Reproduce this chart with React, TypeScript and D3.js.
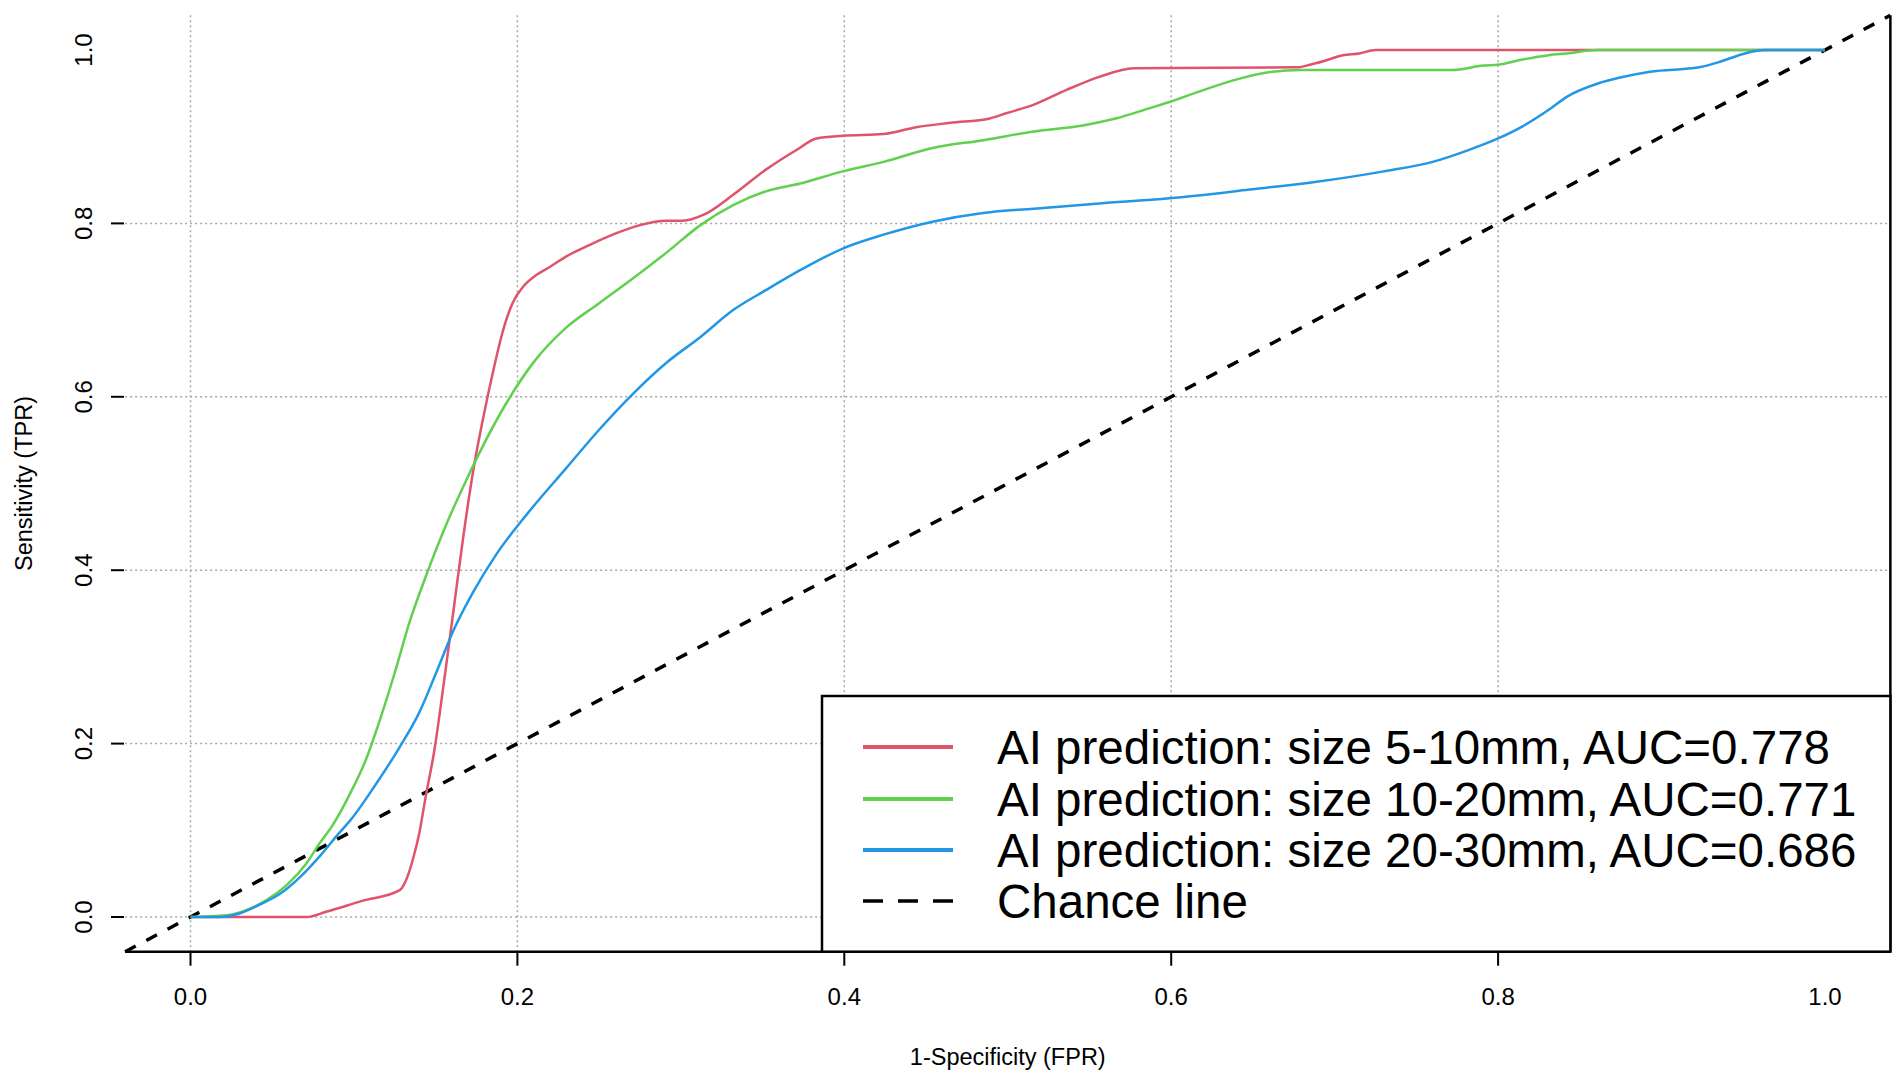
import * as d3 from 'd3'

// ROC curves (1-specificity, sensitivity)
const fpr5to10 = [0, 0.071, 0.083, 0.104, 0.128, 0.132, 0.136, 0.14, 0.144, 0.149, 0.155, 0.161, 0.167, 0.173, 0.179, 0.185, 0.191, 0.197, 0.204, 0.212, 0.22, 0.23, 0.244, 0.261, 0.275, 0.291, 0.301, 0.314, 0.332, 0.352, 0.371, 0.383, 0.399, 0.424, 0.444, 0.465, 0.489, 0.499, 0.516, 0.536, 0.556, 0.577, 0.677, 0.685, 0.693, 0.705, 0.715, 0.725, 1.0]
const tpr5to10 = [0, 0, 0.006, 0.018, 0.031, 0.043, 0.066, 0.097, 0.14, 0.19, 0.27, 0.355, 0.44, 0.515, 0.575, 0.628, 0.675, 0.708, 0.728, 0.741, 0.75, 0.762, 0.775, 0.789, 0.798, 0.803, 0.803, 0.81, 0.833, 0.862, 0.885, 0.898, 0.901, 0.903, 0.911, 0.916, 0.921, 0.927, 0.937, 0.954, 0.969, 0.979, 0.98, 0.983, 0.987, 0.994, 0.996, 1.0, 1.0]

const fpr10to20 = [0, 0.022, 0.034, 0.047, 0.059, 0.071, 0.079, 0.087, 0.097, 0.107, 0.116, 0.125, 0.134, 0.145, 0.157, 0.169, 0.178, 0.193, 0.21, 0.23, 0.25, 0.271, 0.291, 0.312, 0.332, 0.352, 0.373, 0.399, 0.424, 0.454, 0.485, 0.516, 0.546, 0.566, 0.587, 0.599, 0.617, 0.638, 0.662, 0.679, 0.772, 0.791, 0.8, 0.815, 0.831, 0.842, 0.861, 1.0]
const tpr10to20 = [0, 0.002, 0.008, 0.02, 0.037, 0.062, 0.085, 0.106, 0.14, 0.18, 0.228, 0.282, 0.34, 0.398, 0.455, 0.505, 0.54, 0.592, 0.64, 0.68, 0.708, 0.737, 0.766, 0.798, 0.821, 0.837, 0.846, 0.86, 0.871, 0.887, 0.896, 0.906, 0.913, 0.921, 0.933, 0.94, 0.952, 0.965, 0.975, 0.977, 0.977, 0.982, 0.983, 0.989, 0.994, 0.996, 1.0, 1.0]

const fpr20to30 = [0, 0.018, 0.03, 0.042, 0.055, 0.067, 0.079, 0.091, 0.098, 0.113, 0.128, 0.14, 0.151, 0.161, 0.173, 0.187, 0.206, 0.23, 0.25, 0.271, 0.291, 0.312, 0.332, 0.352, 0.373, 0.399, 0.424, 0.454, 0.485, 0.516, 0.556, 0.599, 0.648, 0.689, 0.73, 0.76, 0.781, 0.8, 0.815, 0.831, 0.842, 0.862, 0.874, 0.893, 0.923, 0.935, 0.951, 0.963, 1.0]
const tpr20to30 = [0, 0, 0.004, 0.014, 0.027, 0.046, 0.07, 0.097, 0.112, 0.152, 0.196, 0.236, 0.285, 0.331, 0.375, 0.418, 0.465, 0.518, 0.562, 0.604, 0.639, 0.669, 0.7, 0.723, 0.746, 0.771, 0.787, 0.802, 0.812, 0.817, 0.823, 0.829, 0.839, 0.848, 0.86, 0.871, 0.884, 0.898, 0.912, 0.931, 0.946, 0.962, 0.968, 0.975, 0.98, 0.986, 0.996, 1.0, 1.0]

const seriesLabels = [
  'AI prediction: size 5-10mm, AUC=0.778',
  'AI prediction: size 10-20mm, AUC=0.771',
  'AI prediction: size 20-30mm, AUC=0.686',
]
const seriesColors = ['#DF536B', '#61D04F', '#2297E6']
const chanceLabel = 'Chance line'

const axisTicks = [0, 0.2, 0.4, 0.6, 0.8, 1.0]
const gridTicks = [0, 0.2, 0.4, 0.6, 0.8]

const W = 1902
const H = 1081
const font = '"Liberation Sans", Arial, sans-serif'

export default function App() {
  const x = d3.scaleLinear().domain([0, 1]).range([190.5, 1825])
  const y = d3.scaleLinear().domain([0, 1]).range([917, 50])
  const [x0, x1] = [x(-0.04), x(1.04)]
  const [y0, y1] = [y(-0.04), y(1.04)]

  const line = d3
    .line<[number, number]>()
    .x(d => x(d[0]))
    .y(d => y(d[1]))
    .curve(d3.curveMonotoneX)

  const series = [
    d3.zip(fpr5to10, tpr5to10),
    d3.zip(fpr10to20, tpr10to20),
    d3.zip(fpr20to30, tpr20to30),
  ] as [number, number][][]

  const fmt = d3.format('.1f')

  // legend geometry
  const lg = { left: 822, top: 696, right: x1, bottom: y0 }
  const rowY = [747, 799, 850, 901]

  return (
    <svg
      width={W}
      height={H}
      style={{ position: 'absolute', left: 0, top: 0, background: '#fff' }}
      fontFamily={font}
    >
      {/* grid */}
      <g stroke="#a8a8a8" strokeWidth={1.5} strokeDasharray="2 3">
        {gridTicks.map(t => (
          <line key={'gx' + t} x1={x(t)} x2={x(t)} y1={y1} y2={y0} />
        ))}
        {gridTicks.map(t => (
          <line key={'gy' + t} x1={x0} x2={x1} y1={y(t)} y2={y(t)} />
        ))}
      </g>

      {/* chance line */}
      <line
        x1={x(-0.04)}
        y1={y(-0.04)}
        x2={x(1.04)}
        y2={y(1.04)}
        stroke="#000"
        strokeWidth={3.5}
        strokeDasharray="12 12"
      />

      {/* ROC curves */}
      {series.map((s, i) => (
        <path
          key={i}
          d={line(s) ?? ''}
          fill="none"
          stroke={seriesColors[i]}
          strokeWidth={2.5}
        />
      ))}

      {/* frame: bottom and right */}
      <line x1={x0} x2={x1} y1={y0} y2={y0} stroke="#000" strokeWidth={2.5} />
      <line x1={x1} x2={x1} y1={y1} y2={y0} stroke="#000" strokeWidth={2.5} />

      {/* x axis */}
      {gridTicks.map(t => (
        <line key={'tx' + t} x1={x(t)} x2={x(t)} y1={y0} y2={y0 + 14} stroke="#000" strokeWidth={2} />
      ))}
      {axisTicks.map(t => (
        <text key={'lx' + t} x={x(t)} y={1005} textAnchor="middle" fontSize={24}>
          {fmt(t)}
        </text>
      ))}
      <text x={(x0 + x1) / 2} y={1065} textAnchor="middle" fontSize={23.5}>
        1-Specificity (FPR)
      </text>

      {/* y axis */}
      {gridTicks.map(t => (
        <line key={'ty' + t} x1={111} x2={124} y1={y(t)} y2={y(t)} stroke="#000" strokeWidth={2} />
      ))}
      {axisTicks.map(t => (
        <text
          key={'ly' + t}
          transform={`translate(92,${y(t)}) rotate(-90)`}
          textAnchor="middle"
          fontSize={24}
        >
          {fmt(t)}
        </text>
      ))}
      <text
        transform={`translate(32,${(y0 + y1) / 2}) rotate(-90)`}
        textAnchor="middle"
        fontSize={23.5}
      >
        Sensitivity (TPR)
      </text>

      {/* legend */}
      <rect
        x={lg.left}
        y={lg.top}
        width={lg.right - lg.left}
        height={lg.bottom - lg.top}
        fill="#fff"
        stroke="#000"
        strokeWidth={2.5}
      />
      {seriesLabels.map((label, i) => (
        <g key={label}>
          <line x1={863} x2={953} y1={rowY[i]} y2={rowY[i]} stroke={seriesColors[i]} strokeWidth={4} />
          <text x={997} y={rowY[i] + 16.5} fontSize={47.5}>
            {label}
          </text>
        </g>
      ))}
      <line
        x1={863}
        x2={953}
        y1={rowY[3]}
        y2={rowY[3]}
        stroke="#000"
        strokeWidth={3.5}
        strokeDasharray="20 15"
      />
      <text x={997} y={rowY[3] + 16.5} fontSize={47.5}>
        {chanceLabel}
      </text>
    </svg>
  )
}
